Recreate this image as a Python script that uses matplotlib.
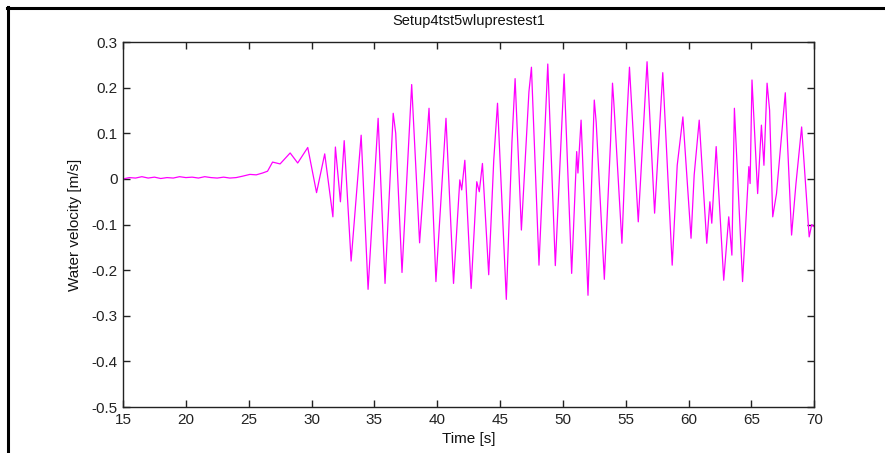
import matplotlib
matplotlib.use("Agg")
import matplotlib.pyplot as plt
from matplotlib.lines import Line2D

# Measured water velocity (time in s, velocity in m/s)
time_s = [
    15.0, 15.5, 16.0, 16.5, 17.0, 17.5, 18.0, 18.5, 19.0, 19.5, 20.0, 20.5,
    21.0, 21.5, 22.0, 22.5, 23.0, 23.5, 24.0, 24.5, 25.1, 25.6, 26.1, 26.5,
    26.9, 27.5, 28.3, 28.9, 29.7, 30.4, 31.05, 31.7, 31.9, 32.3, 32.6, 33.15,
    33.95, 34.5, 35.3, 35.85, 36.5, 36.7, 37.2, 37.97, 38.6, 39.35, 39.9,
    40.7, 41.3, 41.8, 41.95, 42.2, 42.7, 43.15, 43.35, 43.6, 44.1, 44.5,
    44.8, 45.5, 45.95, 46.2, 46.7, 47.3, 47.5, 48.1, 48.8, 49.4, 50.1, 50.7,
    51.1, 51.2, 51.45, 52.0, 52.5, 52.65, 53.3, 53.8, 53.95, 54.05, 54.7,
    55.05, 55.3, 56.0, 56.3, 56.7, 57.3, 57.95, 58.7, 59.1, 59.55, 60.2,
    60.45, 60.85, 61.45, 61.7, 61.85, 62.2, 62.8, 63.2, 63.45, 63.65, 64.3,
    64.8, 64.9, 65.05, 65.5, 65.8, 66.0, 66.25, 66.45, 66.7, 67.0, 67.7,
    68.2, 68.55, 69.0, 69.6, 69.8, 70.0,
]
velocity_ms = [
    0.000, 0.003, 0.002, 0.005, 0.002, 0.004, 0.001, 0.003, 0.002, 0.005,
    0.003, 0.004, 0.002, 0.005, 0.003, 0.002, 0.004, 0.002, 0.003, 0.006,
    0.010, 0.009, 0.013, 0.017, 0.037, 0.033, 0.057, 0.035, 0.069, -0.030,
    0.055, -0.083, 0.070, -0.050, 0.084, -0.180, 0.096, -0.242, 0.133,
    -0.229, 0.144, 0.100, -0.205, 0.207, -0.140, 0.155, -0.225, 0.133,
    -0.229, -0.002, -0.024, 0.041, -0.240, -0.006, -0.028, 0.034, -0.210,
    0.041, 0.166, -0.264, 0.082, 0.220, -0.112, 0.191, 0.245, -0.189, 0.252,
    -0.190, 0.230, -0.207, 0.060, 0.013, 0.129, -0.255, 0.173, 0.125,
    -0.220, 0.085, 0.210, 0.170, -0.141, 0.107, 0.245, -0.094, 0.056, 0.257,
    -0.075, 0.233, -0.189, 0.030, 0.136, -0.130, 0.009, 0.129, -0.141,
    -0.050, -0.097, 0.071, -0.222, -0.083, -0.167, 0.155, -0.225, 0.027,
    -0.010, 0.217, -0.032, 0.118, 0.030, 0.210, 0.151, -0.083, -0.032,
    0.189, -0.123, -0.010, 0.114, -0.127, -0.100, -0.105,
]

x_ticks = [15, 20, 25, 30, 35, 40, 45, 50, 55, 60, 65, 70]
y_ticks = [-0.5, -0.4, -0.3, -0.2, -0.1, 0, 0.1, 0.2, 0.3]
y_tick_labels = ["-0.5", "-0.4", "-0.3", "-0.2", "-0.1", "0", "0.1", "0.2", "0.3"]

plt.rcParams["font.family"] = ["Liberation Sans", "DejaVu Sans"]
plt.rcParams["font.size"] = 11

fig = plt.figure(figsize=(8.85, 4.53), dpi=100)
ax = fig.add_axes([0.139, 0.1015, 0.781, 0.8055])

ax.plot(time_s, velocity_ms, color="#ff00ff", linewidth=0.9)

ax.set_xlim(15, 70)
ax.set_ylim(-0.5, 0.3)
ax.set_xticks(x_ticks)
ax.set_yticks(y_ticks)
ax.set_yticklabels(y_tick_labels)
ax.tick_params(direction="in", length=5, width=1, top=True, right=True,
               colors="#222222", labelcolor="#222222", labelsize=11)
ax.tick_params(axis="x", pad=4)
ax.tick_params(axis="y", pad=4)
for sp in ax.spines.values():
    sp.set_color("#222222")
    sp.set_linewidth(1.0)

ax.set_title("Setup4tst5wluprestest1", fontsize=10.5, pad=12, color="#111111")
ax.set_xlabel("Time [s]", fontsize=11, labelpad=4, color="#111111")
ax.set_ylabel("Water velocity [m/s]", fontsize=11, labelpad=7, color="#111111")

# Frame lines along the left and top edges of the figure
fig.add_artist(Line2D([7.5 / 885, 7.5 / 885], [0, 1 - 6.5 / 453],
                      transform=fig.transFigure, color="black", linewidth=2.2))
fig.add_artist(Line2D([6.5 / 885, 1.0], [1 - 7.5 / 453, 1 - 7.5 / 453],
                      transform=fig.transFigure, color="black", linewidth=2.2))

fig.savefig("out.png", dpi=100)
